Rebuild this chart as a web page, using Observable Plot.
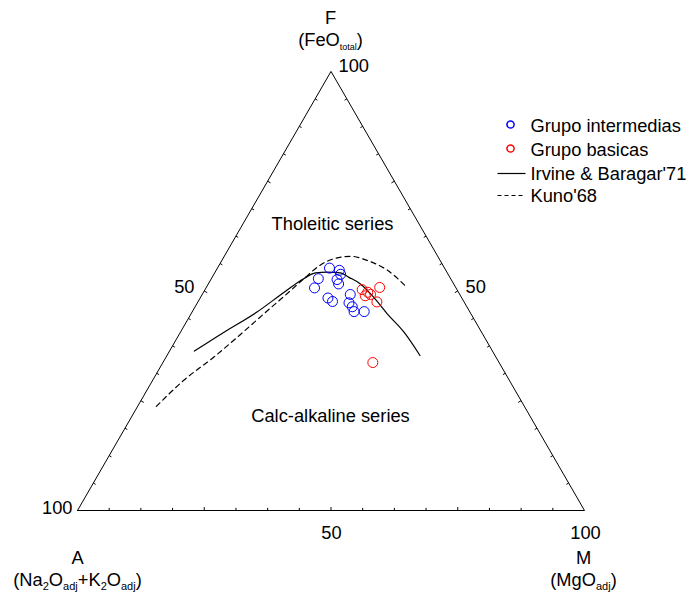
<!DOCTYPE html>
<html><head><meta charset="utf-8">
<script src="https://cdn.jsdelivr.net/npm/d3@7"></script>
<script src="https://cdn.jsdelivr.net/npm/@observablehq/plot@0.6"></script>
<style>html,body{margin:0;padding:0;background:#fff} svg{display:block}</style>
</head><body><div id="chart"></div>
<script>
// ---- Data (ternary percentages A, F, M) ----
const intermediasA = [22.7, 21.0, 21.2, 26.1, 22.5, 22.7, 27.9, 21.6, 26.4, 25.9, 22.8, 22.6, 22.8, 20.8];
const intermediasF = [55.2, 54.7, 53.8, 52.8, 52.6, 51.6, 50.7, 49.2, 48.4, 47.6, 47.3, 46.4, 45.3, 45.3];
const intermediasM = [22.1, 24.3, 25.0, 21.1, 24.9, 25.7, 21.4, 29.2, 25.2, 26.5, 29.9, 31.0, 31.9, 33.9];

const basicasA = [18.7, 15.0, 17.9, 17.6, 18.8, 17.2, 24.9];
const basicasF = [50.3, 50.8, 49.7, 49.2, 48.9, 47.5, 33.7];
const basicasM = [31.0, 34.2, 32.4, 33.2, 32.3, 35.3, 41.4];

const irvineA = [58.8, 50.8, 42.0, 34.4, 29.0, 26.0, 23.6, 21.1, 19.9, 18.4, 17.3, 16.5, 15.3, 14.8];
const irvineF = [36.3, 40.6, 45.2, 49.7, 52.8, 54.1, 54.3, 54.1, 53.1, 51.6, 48.6, 44.8, 40.6, 35.3];
const irvineM = [4.9, 8.6, 12.8, 15.9, 18.2, 19.9, 22.1, 24.8, 27.0, 30.0, 34.1, 38.7, 44.1, 49.9];

const kunoA = [72.6, 64.3, 55.7, 47.8, 40.4, 32.9, 28.5, 24.7, 20.9, 17.2, 14.3, 11.5, 9.8];
const kunoF = [23.7, 29.6, 34.9, 40.1, 45.1, 50.1, 53.1, 55.6, 57.3, 57.9, 56.9, 54.7, 51.3];
const kunoM = [3.7, 6.1, 9.4, 12.1, 14.5, 17.0, 18.4, 19.7, 21.8, 24.9, 28.8, 33.8, 38.9];

const seriesNames = ["Grupo intermedias", "Grupo basicas", "Irvine & Baragar'71", "Kuno'68"];
const regionLabels = ["Tholeitic series", "Calc-alkaline series"];
const vertexNames = ["F", "A", "M"];
const vertexOxides = ["(FeO_{total})", "(Na_{2}O_{adj}+K_{2}O_{adj})", "(MgO_{adj})"];
const tickLabels = ["100", "50", "50", "100", "50", "100"];

// ---- Layout ----
const W = 687, H = 596;
const L = 77, R = 584, B = 510;
const k = (R - L) / 100;
const S3 = Math.sqrt(3) / 2;
const T = B - 100 * S3 * k;
const px = (x, y) => ({x: (x - L) / k, y: (B - y) / k});
const tern = (A, F, M) => { const s = A + F + M; return {x: (M + F / 2) / s * 100, y: (F / s) * 100 * S3}; };
const zip = (As, Fs, Ms) => As.map((a, i) => tern(a, Fs[i], Ms[i]));

const inter = zip(intermediasA, intermediasF, intermediasM);
const basic = zip(basicasA, basicasF, basicasM);
const irvine = zip(irvineA, irvineF, irvineM);
const kuno = zip(kunoA, kunoF, kunoM);

const triangle = [tern(100, 0, 0), tern(0, 0, 100), tern(0, 100, 0), tern(100, 0, 0)];

const tl = 2.6 / k;
const ticks = [];
for (let i = 1; i < 16; i++) {
  const t = i * 100 / 16;
  const len = (i % 4 === 0) ? tl * 1.3 : tl;
  ticks.push({x1: t, y1: 0, x2: t, y2: len});
  const lx = t / 2, ly = t * S3;
  ticks.push({x1: lx, y1: ly, x2: lx + len * S3, y2: ly - len * 0.5});
  const rx = 100 - t / 2, ry = t * S3;
  ticks.push({x1: rx, y1: ry, x2: rx - len * S3, y2: ry - len * 0.5});
}

const font = "Liberation Sans, Arial, sans-serif";
const fs = 18.3;
const txt = (s, p, opts = {}) => Plot.text([s], {x: p.x, y: p.y, text: d => d, fontSize: fs, fontFamily: font, fill: "#000", ...opts});

const marks = [
  Plot.line(triangle, {x: "x", y: "y", stroke: "#000", strokeWidth: 1}),
  Plot.link(ticks, {x1: "x1", y1: "y1", x2: "x2", y2: "y2", stroke: "#000", strokeWidth: 1}),
  Plot.line(irvine, {x: "x", y: "y", stroke: "#000", strokeWidth: 1.2, curve: "monotone-x"}),
  Plot.line(kuno, {x: "x", y: "y", stroke: "#000", strokeWidth: 1.2, strokeDasharray: "5,4", curve: "monotone-x"}),
  Plot.dot(inter, {x: "x", y: "y", r: 5, stroke: "#0000ff", strokeWidth: 1, fill: "none"}),
  Plot.dot(basic, {x: "x", y: "y", r: 5, stroke: "#ff0000", strokeWidth: 1, fill: "none"}),
  txt(regionLabels[0], px(332, 224)),
  txt(regionLabels[1], px(330, 416)),
  txt(vertexNames[0], px(330, 18)),
  txt(vertexOxides[0], px(330, 40)),
  txt(vertexNames[1], px(77, 558)),
  txt(vertexOxides[1], px(77, 580)),
  txt(vertexNames[2], px(583, 558)),
  txt(vertexOxides[2], px(583, 580)),
  txt(tickLabels[0], px(338, 66), {textAnchor: "start"}),
  txt(tickLabels[1], px(194, 287), {textAnchor: "end"}),
  txt(tickLabels[2], px(465, 287), {textAnchor: "start"}),
  txt(tickLabels[3], px(72, 508), {textAnchor: "end"}),
  txt(tickLabels[4], px(331, 533)),
  txt(tickLabels[5], px(585, 533)),
  Plot.dot([0], {x: px(510, 124).x, y: px(510, 124).y, r: 3.6, stroke: "#0000ff", fill: "none"}),
  Plot.dot([0], {x: px(510, 148).x, y: px(510, 148).y, r: 3.6, stroke: "#ff0000", fill: "none"}),
  Plot.link([0], {x1: px(497, 173).x, x2: px(525, 173).x, y1: px(0, 173).y, y2: px(0, 173).y, stroke: "#000", strokeWidth: 1.2}),
  Plot.link([0], {x1: px(497, 195).x, x2: px(525, 195).x, y1: px(0, 195).y, y2: px(0, 195).y, stroke: "#000", strokeWidth: 1.2, strokeDasharray: "4,3"}),
  txt(seriesNames[0], px(530, 126), {textAnchor: "start"}),
  txt(seriesNames[1], px(530, 150), {textAnchor: "start"}),
  txt(seriesNames[2], px(530, 174), {textAnchor: "start"}),
  txt(seriesNames[3], px(530, 196), {textAnchor: "start"}),
];

const svg = Plot.plot({
  width: W, height: H,
  marginLeft: L, marginRight: W - R, marginTop: T, marginBottom: H - B,
  x: {domain: [0, 100], axis: null},
  y: {domain: [0, 100 * S3], axis: null},
  style: {fontFamily: font, background: "#fff", overflow: "visible"},
  marks
});

svg.querySelectorAll("text").forEach(t => {
  const s = t.textContent;
  if (!s.includes("_{")) return;
  while (t.firstChild) t.removeChild(t.firstChild);
  const parts = s.split(/(_\{[^}]*\})/).filter(p => p);
  let sub = false;
  for (const p of parts) {
    const ts = document.createElementNS("http://www.w3.org/2000/svg", "tspan");
    if (p.startsWith("_{")) {
      const v = p.slice(2, -1);
      ts.textContent = v;
      ts.setAttribute("font-size", v === "total" ? "9" : "11");
      if (!sub) ts.setAttribute("dy", "4");
      sub = true;
    } else {
      ts.textContent = p;
      if (sub) ts.setAttribute("dy", "-4");
      sub = false;
    }
    t.appendChild(ts);
  }
});

document.getElementById("chart").appendChild(svg);
</script>
</body></html>
